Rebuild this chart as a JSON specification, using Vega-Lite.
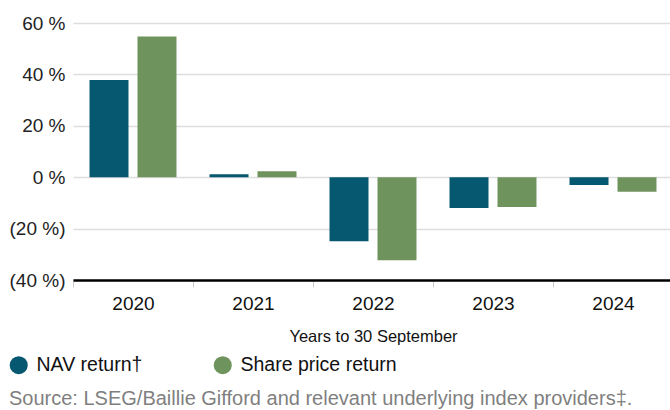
{
  "$schema": "https://vega.github.io/schema/vega-lite/v6.json",
  "autosize": {"type": "none"},
  "width": 600,
  "height": 257,
  "padding": {"left": 73, "top": 23, "right": 0, "bottom": 130},
  "background": "white",
  "data": {"values": [
    {"year": "2020", "series": "NAV return†", "value": 37.8},
    {"year": "2020", "series": "Share price return", "value": 54.7},
    {"year": "2021", "series": "NAV return†", "value": 1.1},
    {"year": "2021", "series": "Share price return", "value": 2.3},
    {"year": "2022", "series": "NAV return†", "value": -24.9},
    {"year": "2022", "series": "Share price return", "value": -32.3},
    {"year": "2023", "series": "NAV return†", "value": -12.0},
    {"year": "2023", "series": "Share price return", "value": -11.6},
    {"year": "2024", "series": "NAV return†", "value": -3.0},
    {"year": "2024", "series": "Share price return", "value": -5.7}
  ]},
  "title": {
    "text": "Source: LSEG/Baillie Gifford and relevant underlying index providers‡.",
    "orient": "bottom",
    "anchor": "start",
    "frame": "group",
    "offset": 14,
    "dx": -64,
    "font": "Arial",
    "fontSize": 20,
    "fontWeight": "normal",
    "color": "#7f7f7f"
  },
  "mark": {"type": "bar"},
  "encoding": {
    "x": {
      "field": "year", "type": "nominal",
      "scale": {"paddingInner": 0, "paddingOuter": 0},
      "axis": {
        "title": "Years to 30 September",
        "titleFont": "Arial",
        "titleFontSize": 16.5,
        "titleFontWeight": "normal",
        "titleColor": "#111",
        "titlePadding": 15,
        "labelAngle": 0,
        "labelFont": "Arial",
        "labelFontSize": 19,
        "labelColor": "#111",
        "labelPadding": 7,
        "tickBand": "extent",
        "tickSize": 7,
        "tickColor": "#cccccc",
        "domainColor": "#000",
        "domainWidth": 2.5
      }
    },
    "xOffset": {
      "field": "series", "type": "nominal",
      "scale": {"paddingInner": 0.1875, "paddingOuter": 0.344}
    },
    "y": {
      "field": "value", "type": "quantitative",
      "scale": {"domain": [-40, 60], "nice": false},
      "axis": {
        "title": null,
        "values": [-40, -20, 0, 20, 40, 60],
        "labelExpr": "datum.value < 0 ? '(' + (-datum.value) + ' %)' : datum.value + ' %'",
        "labelFont": "Arial",
        "labelFontSize": 19,
        "labelColor": "#222",
        "labelPadding": 8,
        "ticks": false,
        "domain": false,
        "gridColor": "#dddddd",
        "gridWidth": 1.5
      }
    },
    "color": {
      "field": "series", "type": "nominal",
      "scale": {"range": ["#05586f", "#6f935c"]},
      "legend": {
        "title": null,
        "orient": "none",
        "direction": "horizontal",
        "legendX": -64,
        "legendY": 332,
        "symbolType": "circle",
        "symbolSize": 324,
        "symbolStrokeWidth": 0,
        "symbolOpacity": 1,
        "labelFont": "Arial",
        "labelFontSize": 19.5,
        "labelColor": "#111",
        "labelOffset": 8,
        "labelLimit": 300,
        "columnPadding": 70
      }
    }
  },
  "config": {"view": {"stroke": null}}
}
